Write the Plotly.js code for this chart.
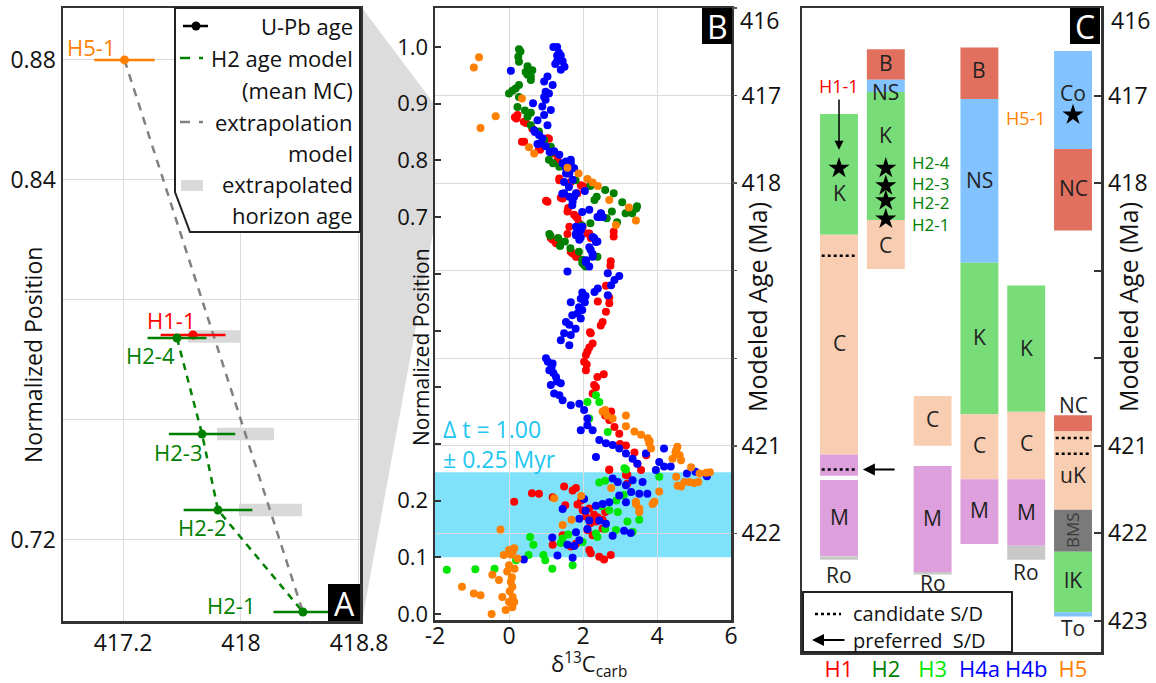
<!DOCTYPE html>
<html><head><meta charset="utf-8">
<script src="https://cdn.plot.ly/plotly-3.0.1.min.js"></script>
<style>body{margin:0;background:#fff}#chart{width:1156px;height:683px}</style>
</head><body><div id="chart"></div>
<script>
// ================= DATA =================
// ---- Panel A: U-Pb ages ----
const upbNames = ['H5-1','H1-1','H2-4','H2-3','H2-2','H2-1'];
const upbAge   = [417.21, 417.675, 417.566, 417.736, 417.844, 418.42];
const upbErr   = [0.205, 0.22, 0.20, 0.225, 0.233, 0.20];
const upbPos   = [0.88, 0.7883, 0.7873, 0.7553, 0.730, 0.696];
// extrapolated horizon ages (grey bars)
const extPos = [0.7878, 0.7553, 0.730];
const extLo  = [417.64, 417.837, 417.986];
const extHi  = [418.00, 418.224, 418.413];
const aXTicks = [417.2, 418, 418.8];
const aYTicks = [0.72, 0.76, 0.80, 0.84, 0.88];
const aYTickText = ['0.72', '', '', '0.84', '0.88'];

// ---- Panel B: d13C_carb vs normalized position, per section ----
const h1Pts = [[0.16,0.876],[0.20,0.874],[0.23,0.880],[0.40,0.868],[0.46,0.866],[0.63,0.856],[0.35,0.833],[0.41,0.833],[0.81,0.820],[0.84,0.819],[1.04,0.839],[1.08,0.838],[1.22,0.812],[1.31,0.800],[1.36,0.768],[1.36,0.765],[1.58,0.777],[1.67,0.762],[1.85,0.742],[1.98,0.755],[1.94,0.756],[2.03,0.753],[1.00,0.729],[1.04,0.727],[1.40,0.734],[1.45,0.733],[1.58,0.710],[1.60,0.716],[1.76,0.704],[1.81,0.701],[1.85,0.698],[1.89,0.689],[1.63,0.683],[1.99,0.683],[1.58,0.670],[2.12,0.671],[2.17,0.671],[2.21,0.663],[1.13,0.663],[1.18,0.660],[1.27,0.654],[1.36,0.654],[1.67,0.639],[1.72,0.636],[1.81,0.630],[1.85,0.630],[2.03,0.621],[2.83,0.666],[2.83,0.674],[2.75,0.622],[2.74,0.614],[2.62,0.579],[2.71,0.558],[2.40,0.551],[2.71,0.548],[2.62,0.533],[2.53,0.515],[2.48,0.509],[2.19,0.497],[2.21,0.495],[2.26,0.477],[2.17,0.470],[2.12,0.463],[2.08,0.457],[2.03,0.445],[2.10,0.440],[2.08,0.430],[2.39,0.418],[2.56,0.423],[2.30,0.404],[2.35,0.400],[2.26,0.389],[2.76,0.357],[2.60,0.350],[2.71,0.342],[2.85,0.330],[2.98,0.318],[3.00,0.300],[3.16,0.297],[3.39,0.285],[3.47,0.265],[3.20,0.245],[2.71,0.255],[2.71,0.254],[3.16,0.245],[3.20,0.230],[3.57,0.254],[3.71,0.280],[0.14,0.198],[0.62,0.213],[0.81,0.212],[1.18,0.206],[1.49,0.225],[1.72,0.218],[1.81,0.222],[1.52,0.192],[1.85,0.193],[1.95,0.200],[1.99,0.183],[2.17,0.186],[2.08,0.172],[2.30,0.175],[2.40,0.170],[2.60,0.180],[2.20,0.160],[2.35,0.163],[2.53,0.166],[2.53,0.151],[2.12,0.148],[2.26,0.139],[1.45,0.139],[1.18,0.122],[1.67,0.119],[1.81,0.124],[2.17,0.113],[2.21,0.107],[2.44,0.101],[2.57,0.096],[2.75,0.104]];
const h2Pts = [[0.27,0.996],[0.31,0.992],[0.25,0.983],[0.27,0.974],[0.50,0.966],[0.45,0.956],[0.63,0.959],[0.59,0.948],[0.50,0.951],[0.59,0.942],[0.27,0.933],[0.18,0.927],[0.09,0.923],[0.00,0.918],[0.27,0.912],[0.23,0.894],[0.43,0.888],[0.59,0.884],[0.50,0.877],[0.59,0.862],[0.81,0.851],[0.95,0.836],[1.13,0.824],[1.17,0.815],[1.08,0.801],[1.19,0.795],[1.36,0.789],[1.80,0.765],[2.20,0.755],[2.60,0.748],[2.83,0.742],[2.37,0.736],[2.31,0.730],[3.06,0.726],[3.15,0.707],[3.33,0.707],[3.46,0.719],[3.44,0.715],[2.78,0.710],[2.64,0.698],[2.92,0.691],[2.20,0.689],[1.97,0.685],[1.09,0.670],[1.12,0.667],[1.33,0.663],[1.51,0.657],[1.38,0.649],[1.66,0.645],[1.89,0.639],[1.98,0.625],[2.07,0.613],[2.39,0.630],[1.98,0.619],[2.03,0.616]];
const h3Pts = [[3.12,0.257],[2.44,0.232],[2.60,0.235],[4.06,0.242],[3.52,0.166],[3.20,0.163],[3.34,0.145],[2.89,0.148],[2.71,0.183],[2.94,0.180],[2.90,0.200],[3.10,0.210],[2.60,0.150],[2.50,0.190],[2.35,0.142],[2.39,0.136],[1.60,0.140],[1.45,0.133],[1.40,0.125],[1.99,0.127],[0.93,0.104],[0.98,0.095],[1.17,0.080],[1.72,0.086],[0.57,0.136],[0.66,0.122],[0.53,0.104],[0.19,0.095],[-0.39,0.080],[-0.91,0.079],[-1.68,0.078],[2.35,0.386],[2.44,0.374],[2.12,0.374],[2.17,0.345],[2.67,0.321],[3.16,0.255]];
const h4Pts = [[1.20,1.000],[1.30,1.000],[1.35,0.990],[1.40,0.985],[1.30,0.975],[1.25,0.970],[1.45,0.975],[1.40,0.960],[1.50,0.965],[1.30,0.985],[0.05,0.958],[1.04,0.948],[1.18,0.933],[0.95,0.939],[0.99,0.921],[1.08,0.918],[0.95,0.912],[0.99,0.907],[0.65,0.901],[0.90,0.895],[1.13,0.889],[0.95,0.880],[0.77,0.871],[1.04,0.862],[0.68,0.853],[0.70,0.850],[0.81,0.845],[0.90,0.839],[0.85,0.830],[0.77,0.829],[0.99,0.825],[1.10,0.815],[1.22,0.816],[1.36,0.810],[1.45,0.795],[1.54,0.798],[1.67,0.801],[1.54,0.786],[1.67,0.795],[1.76,0.786],[1.63,0.777],[1.54,0.777],[1.72,0.766],[1.49,0.762],[1.62,0.753],[1.49,0.742],[1.44,0.741],[1.63,0.736],[1.76,0.736],[1.72,0.727],[1.71,0.721],[1.81,0.742],[2.05,0.746],[2.17,0.713],[1.98,0.709],[2.48,0.707],[2.53,0.700],[2.39,0.700],[2.44,0.700],[2.49,0.706],[1.81,0.683],[1.98,0.683],[1.94,0.677],[1.90,0.675],[1.81,0.671],[1.81,0.668],[1.90,0.660],[1.94,0.664],[2.26,0.665],[2.30,0.663],[2.35,0.656],[2.39,0.657],[2.21,0.642],[2.17,0.647],[2.26,0.635],[2.26,0.630],[2.08,0.624],[2.08,0.621],[2.17,0.613],[1.58,0.604],[2.67,0.601],[2.85,0.589],[2.98,0.596],[2.76,0.580],[2.67,0.562],[2.40,0.574],[2.31,0.568],[1.98,0.567],[2.07,0.561],[1.94,0.556],[2.05,0.550],[1.67,0.550],[1.89,0.541],[1.98,0.536],[1.85,0.530],[1.71,0.527],[1.94,0.521],[1.54,0.515],[1.63,0.510],[1.80,0.503],[1.49,0.495],[1.67,0.492],[1.40,0.483],[1.63,0.474],[1.00,0.451],[1.05,0.445],[1.18,0.442],[1.15,0.435],[1.09,0.430],[1.20,0.425],[1.27,0.418],[1.30,0.410],[1.40,0.407],[1.13,0.404],[1.22,0.389],[1.36,0.386],[1.45,0.377],[1.67,0.368],[1.90,0.371],[2.03,0.360],[2.12,0.345],[1.94,0.324],[2.12,0.333],[2.26,0.324],[2.44,0.307],[2.62,0.301],[2.80,0.298],[2.98,0.292],[3.16,0.283],[3.34,0.274],[2.35,0.277],[3.47,0.265],[3.70,0.283],[3.97,0.254],[4.19,0.292],[4.06,0.268],[4.19,0.260],[4.37,0.260],[4.81,0.248],[5.04,0.251],[5.35,0.243],[2.80,0.239],[2.94,0.233],[3.16,0.227],[3.34,0.236],[3.61,0.233],[3.30,0.215],[3.52,0.212],[3.74,0.212],[2.98,0.209],[3.16,0.197],[2.03,0.203],[2.07,0.182],[2.35,0.191],[2.53,0.194],[2.71,0.197],[2.44,0.165],[2.62,0.159],[2.80,0.138],[3.11,0.147],[3.29,0.143],[2.12,0.150],[2.17,0.165],[1.90,0.168],[1.81,0.144],[1.90,0.130],[1.58,0.122],[1.17,0.135],[1.45,0.185],[1.76,0.120],[1.31,0.103],[1.72,0.099],[0.40,0.096]];
const h5Pts = [[-0.95,0.964],[-0.81,0.982],[-0.36,0.878],[-0.77,0.857],[0.35,0.909],[0.54,0.823],[0.68,0.812],[1.58,0.787],[1.88,0.777],[2.12,0.767],[2.26,0.761],[2.40,0.755],[2.71,0.730],[3.24,0.717],[3.43,0.694],[2.89,0.686],[2.53,0.357],[2.60,0.360],[2.65,0.350],[2.80,0.345],[3.16,0.350],[3.16,0.331],[3.39,0.322],[3.57,0.316],[3.75,0.310],[3.80,0.305],[3.79,0.301],[3.84,0.292],[4.52,0.289],[4.55,0.295],[4.50,0.285],[4.61,0.280],[4.42,0.274],[4.65,0.271],[4.92,0.259],[5.15,0.248],[5.33,0.249],[4.52,0.242],[4.74,0.233],[5.00,0.231],[4.56,0.226],[3.88,0.194],[3.43,0.194],[3.52,0.180],[1.45,0.157],[1.69,0.166],[1.95,0.208],[1.22,0.204],[2.76,0.222],[3.52,0.186],[3.43,0.198],[3.93,0.198],[4.06,0.216],[4.65,0.225],[4.88,0.233],[5.11,0.233],[5.43,0.250],[-0.23,0.149],[0.00,0.113],[-0.14,0.104],[0.05,0.105],[0.10,0.110],[0.14,0.116],[0.23,0.098],[0.00,0.086],[0.15,0.080],[-0.05,0.075],[-0.45,0.069],[0.08,0.065],[-0.27,0.060],[0.05,0.057],[0.09,0.048],[-1.27,0.048],[0.02,0.040],[-0.95,0.036],[-0.77,0.033],[-0.18,0.030],[0.10,0.030],[0.00,0.021],[0.14,0.021],[-0.09,0.007],[0.09,0.012],[-0.47,0.000]];
const bandLo = 0.10, bandHi = 0.25;          // Δt interval in normalized position
const bXTicks = [-2, 0, 2, 4, 6];
const bYTicks = [0, 0.1, 0.2, 0.3, 0.4, 0.5, 0.6, 0.7, 0.8, 0.9, 1.0];
const bYTickText = ['0.0','0.1','0.2','','','','','0.7','0.8','0.9','1.0'];
const ageTicks = [416, 417, 418, 419, 420, 421, 422, 423];
const ageTickText = ['', '417', '418', '', '', '421', '422', '423'];

// ---- Panel C: correlated lithostratigraphy in modeled age ----
const columns = ['H1', 'H2', 'H3', 'H4a', 'H4b', 'H5'];
const segColumn = ['H1','H1','H1','H1','H1', 'H2','H2','H2','H2', 'H3','H3','H3', 'H4a','H4a','H4a','H4a','H4a', 'H4b','H4b','H4b','H4b', 'H5','H5','H5','H5','H5','H5','H5'];
const segUnit   = ['K','C','M','M','Ro', 'B','NS','K','C', 'C','M','Ro', 'B','NS','K','C','M', 'K','C','M','Ro', 'Co','NC','NC','uK','BMS','lK','To'];
const segTop    = [417.21,418.59,421.10,421.39,422.26, 416.47,416.82,416.96,418.42, 420.43,421.23,422.44, 416.45,417.04,418.91,420.64,421.38, 419.17,420.61,421.38,422.14, 416.49,417.61,420.65,420.83,421.73,422.21,422.90];
const segBase   = [418.59,421.10,421.34,422.26,422.30, 416.82,416.96,418.42,418.98, 421.00,422.44,422.47, 417.04,418.91,420.64,421.38,422.12, 420.61,421.38,422.14,422.30, 417.61,418.54,420.83,421.73,422.21,422.90,422.95];
const labColumn = ['H1','H1','H1','H1', 'H2','H2','H2','H2', 'H3','H3','H3', 'H4a','H4a','H4a','H4a','H4a', 'H4b','H4b','H4b','H4b', 'H5','H5','H5','H5','H5','H5','H5'];
const labText   = ['K','C','M','Ro', 'B','NS','K','C', 'C','M','Ro', 'B','NS','K','C','M', 'K','C','M','Ro', 'Co','NC','NC','uK','BMS','lK','To'];
const labAge    = [418.11,419.83,421.81,422.47, 416.63,416.96,417.45,418.71, 420.69,421.82,422.57, 416.71,417.96,419.76,420.99,421.73, 419.88,420.97,421.76,422.44, 416.97,418.06,420.53,421.33,421.96,422.53,423.08];
const starColumn = ['H1','H2','H2','H2','H2','H5'];
const starAge    = [417.83, 417.83, 418.03, 418.20, 418.41, 417.22];
const h2StarLabels = ['H2-4','H2-3','H2-2','H2-1'];
const h2StarLabelAge = [417.76, 418.00, 418.22, 418.47];
const h1LabelAge = 416.89, h5LabelAge = 417.26;
const candColumn = ['H1','H1','H5','H5'];
const candAge    = [418.83, 421.27, 420.91, 421.09];
const prefColumn = 'H1', prefAge = 421.27;

// ================= STYLE =================
const W = 1156, H = 683;
const FONT = '"Open Sans", "Noto Sans", sans-serif';
const X = p => p / W, Y = p => 1 - p / H;
const horizonColor = {H1:'#ff0000', H2:'#008000', H3:'#00e600', H4:'#0000ff', H4a:'#0000ff', H4b:'#0000ff', H5:'#ff7f00'};
const unitColor = {K:'#78dc78', lK:'#78dc78', C:'#f9cdb1', uK:'#f9cdb1', M:'#dda0dc', Ro:'#c8c8c8',
                   B:'#e2705e', NC:'#e2705e', NS:'#82c3ff', Co:'#82c3ff', To:'#82c3ff', BMS:'#7a7a7a'};
const AX = '#333', GRID = '#dadada';
const colIdx = c => columns.indexOf(c);
const secOf = n => n.split('-')[0];
const tf = s => ({family:FONT, size:s, color:'#111'});

// ================= TRACES =================
const traces = [];
// Panel A grey extrapolated bars
traces.push({type:'bar', orientation:'h', xaxis:'x', yaxis:'y', y:extPos,
  x:extHi.map((h,i)=>h-extLo[i]), base:extLo, width:0.0042,
  marker:{color:'#d9d9d9', line:{width:0}}, hoverinfo:'skip'});
// H2 age model (mean MC)
const h2Idx = upbNames.map((n,i)=>i).filter(i=>secOf(upbNames[i])==='H2');
traces.push({type:'scatter', mode:'lines', xaxis:'x', yaxis:'y',
  x:h2Idx.map(i=>upbAge[i]), y:h2Idx.map(i=>upbPos[i]),
  line:{color:'#008000', width:2.5, dash:'7px,6px'}, hoverinfo:'skip'});
// extrapolation model: from H5-1 to H2-1
const iTop = upbNames.indexOf('H5-1'), iBot = upbNames.indexOf('H2-1');
traces.push({type:'scatter', mode:'lines', xaxis:'x', yaxis:'y',
  x:[upbAge[iTop], upbAge[iBot]], y:[upbPos[iTop], upbPos[iBot]],
  line:{color:'#808080', width:2.5, dash:'8px,7px'}, hoverinfo:'skip'});
// U-Pb ages by section
['H5','H1','H2'].forEach(s=>{
  const idx = upbNames.map((n,i)=>i).filter(i=>secOf(upbNames[i])===s);
  traces.push({type:'scatter', mode:'markers', xaxis:'x', yaxis:'y',
    x:idx.map(i=>upbAge[i]), y:idx.map(i=>upbPos[i]),
    error_x:{type:'data', array:idx.map(i=>upbErr[i]), visible:true, color:horizonColor[s], thickness:2.5, width:0},
    marker:{color:horizonColor[s], size:9}, hoverinfo:'skip'});
});
// Panel B scatter
[['H1',h1Pts],['H2',h2Pts],['H3',h3Pts],['H4',h4Pts],['H5',h5Pts]].forEach(([s,pts])=>{
  traces.push({type:'scatter', mode:'markers', xaxis:'x2', yaxis:'y2',
    x:pts.map(p=>p[0]), y:pts.map(p=>p[1]),
    marker:{color:horizonColor[s], size:8}, hoverinfo:'skip'});
});
// carrier for the modeled-age axis of panel B (no visible marks)
traces.push({type:'scatter', mode:'markers', xaxis:'x2', yaxis:'y3',
  x:ageTicks.map(()=>null), y:ageTicks, marker:{opacity:0}, hoverinfo:'skip'});
// Panel C columns
traces.push({type:'bar', xaxis:'x3', yaxis:'y4',
  x:segColumn.map(colIdx), base:segTop, y:segBase.map((b,i)=>b-segTop[i]), width:0.81,
  marker:{color:segUnit.map(u=>unitColor[u]), line:{width:0}}, hoverinfo:'skip'});
traces.push({type:'scatter', mode:'markers', xaxis:'x3', yaxis:'y4',
  x:starColumn.map(colIdx), y:starAge,
  marker:{symbol:'star', size:16, color:'#000'}, hoverinfo:'skip'});

// ================= SHAPES =================
const shapes = [];
const path = pts => 'M ' + pts.map(p=>X(p[0])+','+Y(p[1])).join(' L ') + ' Z';
shapes.push({type:'path', xref:'paper', yref:'paper', layer:'below',
  path:path([[362,8],[435,105],[435,222],[362,621]]), fillcolor:'#dcdcdc', line:{width:0}});
shapes.push({type:'rect', xref:'x2 domain', yref:'y2', x0:0, x1:1, y0:bandLo, y1:bandHi,
  fillcolor:'#80e2fa', line:{width:0}, layer:'below'});
// Panel A legend
shapes.push({type:'path', xref:'paper', yref:'paper', path:path([[175,8],[360,8],[360,232],[190,232],[175,192]]),
  fillcolor:'#fff', line:{color:'#222', width:2}});
shapes.push({type:'line', xref:'paper', yref:'paper', x0:X(183), x1:X(208), y0:Y(26), y1:Y(26), line:{color:'#000', width:2.5}});
shapes.push({type:'circle', xref:'paper', yref:'paper', x0:X(191.5), x1:X(200.5), y0:Y(21.5), y1:Y(30.5), fillcolor:'#000', line:{width:0}});
shapes.push({type:'line', xref:'paper', yref:'paper', x0:X(180), x1:X(190), y0:Y(58), y1:Y(58), line:{color:'#008000', width:2.5}});
shapes.push({type:'line', xref:'paper', yref:'paper', x0:X(199), x1:X(203), y0:Y(58), y1:Y(58), line:{color:'#008000', width:2.5}});
shapes.push({type:'line', xref:'paper', yref:'paper', x0:X(180), x1:X(190), y0:Y(122), y1:Y(122), line:{color:'#808080', width:2.5}});
shapes.push({type:'line', xref:'paper', yref:'paper', x0:X(199), x1:X(203), y0:Y(122), y1:Y(122), line:{color:'#808080', width:2.5}});
shapes.push({type:'rect', xref:'paper', yref:'paper', x0:X(181), x1:X(203), y0:Y(180), y1:Y(191), fillcolor:'#d9d9d9', line:{width:0}});
// panel letter boxes
[[328,584,360,621],[702,8,732,44],[1070,8,1100,44]].forEach(b=>{
  shapes.push({type:'rect', xref:'paper', yref:'paper', x0:X(b[0]), x1:X(b[2]), y0:Y(b[1]), y1:Y(b[3]), fillcolor:'#000', line:{width:0}});
});
// candidate S/D dotted lines in C
candColumn.forEach((c,i)=>{
  shapes.push({type:'line', xref:'x3', yref:'y4', x0:colIdx(c)-0.37, x1:colIdx(c)+0.37, y0:candAge[i], y1:candAge[i],
    line:{color:'#000', width:2.5, dash:'dot'}});
});
// C legend box
shapes.push({type:'rect', xref:'paper', yref:'paper', x0:X(803), x1:X(1012), y0:Y(592), y1:Y(652), fillcolor:'#fff', line:{color:'#222', width:2}});
shapes.push({type:'line', xref:'paper', yref:'paper', x0:X(815), x1:X(841), y0:Y(614), y1:Y(614), line:{color:'#000', width:2.5, dash:'dot'}});

// ================= ANNOTATIONS =================
const ann = [];
const pa = (text, x, y, o={}) => Object.assign({xref:'paper', yref:'paper', x:X(x), y:Y(y), text, showarrow:false,
  xanchor:'center', yanchor:'middle', font:tf(22)}, o);
// axis titles
ann.push(pa('Normalized Position', 33, 355, {textangle:-90, font:tf(23)}));
ann.push(pa('Normalized Position', 421, 347, {textangle:-90, font:tf(21)}));
ann.push(pa('Modeled Age (Ma)', 757, 307, {textangle:-90, font:tf(25)}));
ann.push(pa('Modeled Age (Ma)', 1128, 307, {textangle:-90, font:tf(25)}));
ann.push(pa('δ<sup>13</sup>C<sub>carb</sub>', 589, 664, {font:tf(22)}));
ann.push(pa('416', 759, 20, {font:tf(23)}));
ann.push(pa('416', 1130, 20, {font:tf(23)}));
// panel letters
ann.push(pa('A', 344, 603, {font:{family:FONT, size:32, color:'#fff'}}));
ann.push(pa('B', 717, 27, {font:{family:FONT, size:32, color:'#fff'}}));
ann.push(pa('C', 1085, 27, {font:{family:FONT, size:32, color:'#fff'}}));
// Panel A legend text
[['U-Pb age',26],['H2 age model',58],['(mean MC)',90],['extrapolation',122],['model',153],['extrapolated',184],['horizon age',215]].forEach(t=>{
  ann.push(pa(t[0], 355, t[1], {xanchor:'right', font:tf(22)}));
});
// Panel A point labels
const aLabShift = {'H5-1':[-33,13], 'H1-1':[-22,15], 'H2-4':[-26,-17], 'H2-3':[-24,-18], 'H2-2':[-16,-17], 'H2-1':[-72,7]};
upbNames.forEach((n,i)=>{
  ann.push({xref:'x', yref:'y', x:upbAge[i], y:upbPos[i], text:n, showarrow:false, xshift:aLabShift[n][0], yshift:aLabShift[n][1],
    font:{family:FONT, size:22, color:horizonColor[secOf(n)]}});
});
// Panel B Δt text
ann.push(pa('Δ t = 1.00', 441, 429, {xanchor:'left', font:{family:FONT, size:23, color:'#1ec6f0'}}));
ann.push(pa('± 0.25 Myr', 441, 459, {xanchor:'left', font:{family:FONT, size:23, color:'#1ec6f0'}}));
// Panel C unit labels
labText.forEach((t,i)=>{
  const o = {xref:'x3', yref:'y4', x:colIdx(labColumn[i]), y:labAge[i], text:t, showarrow:false,
    font:{family:FONT, size:21, color:'#222'}};
  if (t==='BMS') { o.textangle = -90; o.font = {family:FONT, size:17, color:'#3a3a3a'}; }
  ann.push(o);
});
// horizon labels in C
ann.push({xref:'x3', yref:'y4', x:colIdx('H1'), y:417.62, ax:colIdx('H1'), ay:h1LabelAge, axref:'x3', ayref:'y4',
  text:'H1-1', showarrow:true, arrowhead:2, arrowsize:1.2, arrowwidth:1.5, arrowcolor:'#000',
  font:{family:FONT, size:18, color:'#ff0000'}});
h2StarLabels.forEach((t,i)=>{
  ann.push({xref:'x3', yref:'y4', x:1.517, y:h2StarLabelAge[i], text:t, showarrow:false, xanchor:'left',
    font:{family:FONT, size:17, color:'#008000'}});
});
ann.push({xref:'x3', yref:'y4', x:4.465, y:h5LabelAge, text:'H5-1', showarrow:false, xanchor:'right',
  font:{family:FONT, size:18, color:'#ff7f00'}});
// preferred S/D arrow
ann.push({xref:'x3', yref:'y4', x:colIdx(prefColumn)+0.51, y:prefAge, ax:colIdx(prefColumn)+1.22, ay:prefAge, axref:'x3', ayref:'y4',
  text:'', showarrow:true, arrowhead:2, arrowsize:1.2, arrowwidth:2, arrowcolor:'#000'});
// C legend
ann.push(pa('candidate S/D', 851, 613, {xanchor:'left', font:tf(20)}));
ann.push(pa('preferred  S/D', 851, 640, {xanchor:'left', font:tf(20)}));
ann.push({xref:'paper', yref:'paper', x:X(812), y:Y(640), ax:34, ay:0, text:'', showarrow:true,
  arrowhead:2, arrowsize:1.2, arrowwidth:2, arrowcolor:'#000'});

// ================= LAYOUT =================
const frame = {showline:true, mirror:true, linecolor:AX, linewidth:2.5, zeroline:false, automargin:false};
const layout = {
  width:W, height:H, margin:{l:0, r:0, t:0, b:0},
  paper_bgcolor:'#fff', plot_bgcolor:'rgba(0,0,0,0)', showlegend:false, barmode:'overlay',
  font:{family:FONT, size:18, color:'#111'},
  xaxis: Object.assign({domain:[X(63), X(360)], anchor:'y', range:[416.793, 418.807],
    tickvals:aXTicks, ticktext:aXTicks.map(String), ticks:'', showgrid:true, gridcolor:GRID, tickfont:tf(23)}, frame),
  yaxis: Object.assign({domain:[Y(621), Y(8)], anchor:'x', range:[0.693, 0.8973],
    tickvals:aYTicks, ticktext:aYTickText, ticks:'', showgrid:true, gridcolor:GRID, tickfont:tf(23)}, frame),
  xaxis2: Object.assign({domain:[X(435), X(731)], anchor:'y2', range:[-2, 6],
    tickvals:bXTicks, ticktext:bXTicks.map(String), ticks:'', showgrid:true, gridcolor:GRID, tickfont:tf(23), ticklabelstandoff:-6}, frame),
  yaxis2: Object.assign({domain:[Y(620), Y(8)], anchor:'x2', range:[-0.0106, 1.0688],
    tickvals:bYTicks, ticktext:bYTickText, ticks:'inside', ticklen:6, tickwidth:2, tickcolor:AX, showgrid:false, tickfont:tf(22)}, frame),
  yaxis3: {overlaying:'y2', anchor:'x2', side:'right', range:[422.989, 416],
    tickvals:ageTicks.slice(0,7), ticktext:ageTickText.slice(0,7), ticks:'outside', ticklen:5, tickwidth:1.5, tickcolor:'#555',
    showgrid:true, gridcolor:GRID, showline:false, zeroline:false, tickfont:tf(23), automargin:false},
  xaxis3: Object.assign({domain:[X(802), X(1101)], anchor:'y4', range:[-0.791, 5.598],
    tickvals:columns.map((c,i)=>i), ticktext:columns.map(c=>'<span style="color:'+horizonColor[c]+'">'+c+'</span>'),
    ticks:'', showgrid:false, tickfont:tf(22), ticklabelstandoff:-4}, frame),
  yaxis4: Object.assign({domain:[Y(652), Y(8)], anchor:'x3', side:'right', range:[423.354, 416],
    tickvals:ageTicks, ticktext:ageTickText, ticks:'inside', ticklen:7, tickwidth:2, tickcolor:AX, showgrid:false, tickfont:tf(23)}, frame),
  shapes, annotations:ann
};
Plotly.newPlot('chart', traces, layout, {displayModeBar:false, staticPlot:true});
</script></body></html>
